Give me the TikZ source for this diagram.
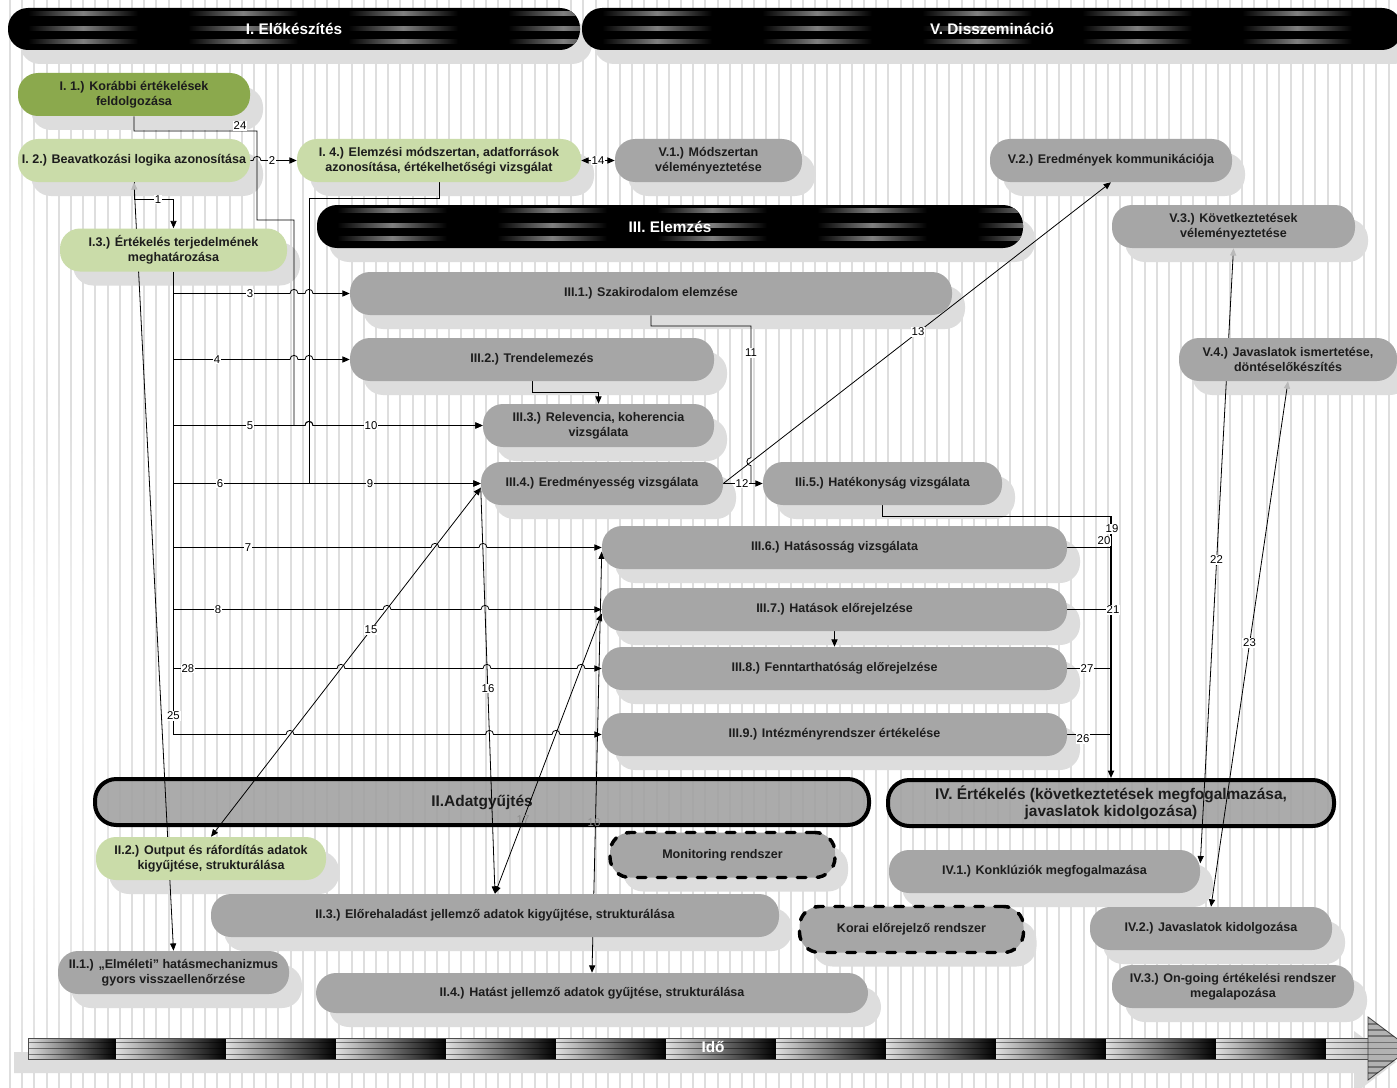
\documentclass[tikz,border=0pt]{standalone}
\usepackage{fontspec}
\setmainfont{Liberation Sans}
\usetikzlibrary{arrows.meta,fadings}
\definecolor{ndgray}{HTML}{A6A6A6}
\definecolor{shad}{HTML}{DDDDDD}
\definecolor{gdark}{HTML}{8BA94D}
\definecolor{glight}{HTML}{CADCA9}
\definecolor{stripec}{HTML}{DEDEDE}
\definecolor{txt}{HTML}{1C1C1C}
\definecolor{phfill}{HTML}{A2A2A2}
\tikzfading[name=softblob, inner color=transparent!0, outer color=transparent!100]
\pgfdeclarelayer{bgl}
\pgfdeclarelayer{shl}
\pgfdeclarelayer{cnl}
\pgfsetlayers{bgl,shl,cnl,main}
\tikzset{
  myt/.tip={Triangle[length=5.5pt,width=4.6pt]},
  gtip/.tip={Triangle[length=5.5pt,width=4.6pt,color=gray!55]},
  pbox/.style={rectangle,rounded corners=15pt,minimum height=32.25pt,inner sep=1pt,align=center,
     font=\fontsize{9.4}{11.2}\selectfont\bfseries,text=txt},
  dnode/.style={draw=black,line width=2.6pt,dash pattern=on 6.5pt off 8.5pt,line cap=round},
  phase/.style={rectangle,rounded corners=16pt,draw=black,line width=3pt,fill=phfill,fill opacity=.9,text opacity=1,
     align=center,font=\fontsize{11.6}{13}\selectfont\bfseries,text=txt,inner sep=0pt},
  hdr/.style={text=white,font=\fontsize{11.5}{13}\selectfont\bfseries,inner sep=0pt},
  conn/.style={draw=black,line width=0.6pt},
  arr/.style={-myt},
  lbl/.style={fill=white,inner sep=0.7pt,font=\fontsize{8.5}{9}\selectfont,text=black},
}
\newcommand\hopat[2]{-- ({#1-4},#2) .. controls ({#1-4},{#2-5.5}) and ({#1+4},{#2-5.5}) .. ({#1+4},#2)}
\newcommand\mynode[7][]{%
  \begin{pgfonlayer}{shl}
    \node[pbox,#1,draw=none,fill=shad,minimum width=#5*0.75pt] at (#3+13,#4+14) {};
  \end{pgfonlayer}
  \node[pbox,#1,fill=#6,minimum width=#5*0.75pt] (#2) at (#3,#4) {#7};}
\newcommand\myband[6]{%
  \begin{pgfonlayer}{shl}
    \fill[shad,rounded corners=15pt] ({#2+12},{#3+14}) rectangle ({#4+12},{#5+14});
  \end{pgfonlayer}
  \fill[black,rounded corners=15pt] (#2,#3) rectangle (#4,#5);
  \begin{scope}
    \clip[rounded corners=15pt] (#2,#3) rectangle (#4,#5);
    \foreach \k in {0,...,5} {
      \foreach \dy in {5.5,20.5,33.5} {
        \shade[left color=black,right color=black,middle color=black!50]
          ({#2+20+160*\k},{#3+\dy-2}) rectangle ({#2+130+160*\k},{#3+\dy+2});
      }
    }
  \end{scope}
  \node[hdr] (#1) at ({(#2+#4)/2},{(#3+#5)/2}) {#6};}
\begin{document}
\begin{tikzpicture}[x=0.75pt,y=-0.75pt]
\useasboundingbox (0,0) rectangle (1397,1088);
\begin{pgfonlayer}{bgl}
  \fill[white] (0,0) rectangle (1397,1088);
  \foreach \i in {0,...,115} \draw[stripec,line width=1.6pt] ({10+\i*12.2},0) -- ({10+\i*12.2},1088);
  \fill[white,path fading=softblob] (-110,380) rectangle (150,1080);
  \fill[white,path fading=softblob,opacity=.8] (-60,80) rectangle (60,520);
\end{pgfonlayer}

% header bands
\myband{hI}{8}{8}{580}{50}{I. Előkészítés}
\myband{hV}{582}{8}{1402}{50}{V. Disszemináció}
\myband{hIII}{317}{205}{1023}{248}{III. Elemzés}

% nodes
\mynode{i1}{134}{94.5}{232}{gdark}{I. 1.) Korábbi értékelések\\feldolgozása}
\mynode{i2}{134}{160.5}{232}{glight}{I. 2.) Beavatkozási logika azonosítása}
\mynode{i3}{173.5}{250}{227}{glight}{I.3.) Értékelés terjedelmének\\meghatározása}
\mynode{i4}{439}{160.5}{284}{glight}{I. 4.) Elemzési módszertan, adatforrások\\azonosítása, értékelhetőségi vizsgálat}
\mynode{v1}{708.5}{160.5}{187}{ndgray}{V.1.) Módszertan\\véleményeztetése}
\mynode{v2}{1111}{160.5}{242}{ndgray}{V.2.) Eredmények kommunikációja}
\mynode{v3}{1233.5}{226.5}{243}{ndgray}{V.3.) Következtetések\\véleményeztetése}
\mynode{v4}{1288}{359.5}{218}{ndgray}{V.4.) Javaslatok ismertetése,\\döntéselőkészítés}
\mynode{iiiA}{651}{293.5}{602}{ndgray}{III.1.) Szakirodalom elemzése}
\mynode{iiiB}{532}{359.5}{364}{ndgray}{III.2.) Trendelemezés}
\mynode{iiiC}{598.5}{425.5}{231}{ndgray}{III.3.) Relevencia, koherencia\\vizsgálata}
\mynode{iiiD}{602}{483.5}{242}{ndgray}{III.4.) Eredményesség vizsgálata}
\mynode{iiiE}{882.5}{483.5}{239}{ndgray}{IIi.5.) Hatékonyság vizsgálata}
\mynode{iiiF}{834.5}{547.5}{465}{ndgray}{III.6.) Hatásosság vizsgálata}
\mynode{iiiG}{834.5}{609.5}{465}{ndgray}{III.7.) Hatások előrejelzése}
\mynode{iiiH}{834.5}{668.5}{465}{ndgray}{III.8.) Fenntarthatóság előrejelzése}
\mynode{iiiI}{834.5}{734.5}{465}{ndgray}{III.9.) Intézményrendszer értékelése}
\mynode{ii2}{211}{858.5}{230}{glight}{II.2.) Output és ráfordítás adatok\\kigyűjtése, strukturálása}
\mynode{ii3}{495}{915.5}{568}{ndgray}{II.3.) Előrehaladást jellemző adatok kigyűjtése, strukturálása}
\mynode{ii1}{173.5}{972.5}{231}{ndgray}{II.1.) „Elméleti” hatásmechanizmus\\gyors visszaellenőrzése}
\mynode[minimum height=30pt]{ii4}{592}{993}{552}{ndgray}{II.4.) Hatást jellemző adatok gyűjtése, strukturálása}
\mynode[dnode,minimum height=33.75pt]{mon}{722.5}{855}{225}{ndgray}{Monitoring rendszer}
\mynode[dnode,minimum height=34.5pt]{korai}{911.5}{929.5}{224}{ndgray}{Korai előrejelző rendszer}
\mynode{iv1}{1044.5}{871.5}{311}{ndgray}{IV.1.) Konklúziók megfogalmazása}
\mynode{iv2}{1211}{928.5}{242}{ndgray}{IV.2.) Javaslatok kidolgozása}
\mynode{iv3}{1233}{986.5}{242}{ndgray}{IV.3.) On-going értékelési rendszer\\megalapozása}

% phase boxes
\begin{pgfonlayer}{shl}
\node[phase,minimum width=774*0.75pt,minimum height=46*0.75pt] (ph2) at (482,802) {II.Adatgyűjtés};
\node[phase,minimum width=446*0.75pt,minimum height=46*0.75pt] (ph4) at (1111,803) {IV. Értékelés (következtetések megfogalmazása,\\javaslatok kidolgozása)};
\fill[shad] (14,1052) -- (1354,1052) -- (1354,1031) -- (1396,1062) -- (1354,1094) -- (1354,1073) -- (14,1073) -- cycle;
\end{pgfonlayer}

% time bar
\foreach \a/\b in {28/116,116/226,226/336,336/446,446/556,556/666,666/776,776/886,886/996,996/1106,1106/1216,1216/1326}
  \shade[left color=gray!25,right color=black] (\a,1038) rectangle (\b,1059);
\shade[left color=gray!25,right color=gray!55] (1326,1038) rectangle (1369,1059);
\foreach \yy in {1042.5,1048.5,1054.5}
  \draw[black,opacity=.45,line width=1pt] (28,\yy) -- (1369,\yy);
\draw[black!70,line width=0.6pt] (28,1038) rectangle (1369,1059);
\filldraw[fill=gray!60,draw=black!75,line width=0.6pt] (1368,1017) -- (1410,1048.5) -- (1368,1080) -- cycle;
\begin{scope}
  \clip (1368,1017) -- (1410,1048.5) -- (1368,1080) -- cycle;
  \foreach \yy in {1024,1030,1036,1042.5,1048.5,1054.5,1061,1067,1073}
    \draw[black,opacity=.35,line width=0.8pt] (1368,\yy) -- (1410,\yy);
\end{scope}
\node[hdr] (ido) at (713,1047) {Idő};

% connectors
\begin{pgfonlayer}{cnl}
\draw[conn,arr] (i1.south) -- (134,131) -- (257,131) -- (257,220) -- (294,220) -- (294,425.5) \hopat{309}{425.5} -- (iiiC.west);
\draw[conn,arr] (i2.south) -- (134,199.5) -- (173.5,199.5) -- (i3.north);
\draw[conn,arr] (i2.east) \hopat{257}{160.5} -- (i4.west);
\draw[conn,myt-myt] (i4.east) -- (v1.west);
\draw[conn,arr] (i4.south) -- (439,198) -- (309,198) -- (309,483.5) -- (iiiD.west);
\draw[conn,arr] (i3.south) -- (i3.south |- iiiI.west) \hopat{290}{734.5} \hopat{489.5}{734.5} \hopat{556}{734.5} -- (iiiI.west);
\draw[conn,arr] (i3.south |- iiiA.west) \hopat{294}{293.5} \hopat{309}{293.5} -- (iiiA.west);
\draw[conn,arr] (i3.south |- iiiB.west) \hopat{294}{359.5} \hopat{309}{359.5} -- (iiiB.west);
\draw[conn,arr] (i3.south |- iiiC.west) -- (294,425.5) \hopat{309}{425.5} -- (iiiC.west);
\draw[conn,arr] (i3.south |- iiiD.west) -- (iiiD.west);
\draw[conn,arr] (i3.south |- iiiF.west) \hopat{435}{547.5} \hopat{483}{547.5} -- (iiiF.west);
\draw[conn,arr] (i3.south |- iiiG.west) \hopat{387}{609.5} \hopat{485}{609.5} -- (iiiG.west);
\draw[conn,arr] (i3.south |- iiiH.west) \hopat{341}{668.5} \hopat{487}{668.5} \hopat{581}{668.5} -- (iiiH.west);
\draw[conn,myt-myt] (ii2.north) -- (iiiD.182);
\draw[conn,arr] (iiiD.182) -- (ii3.north);
\draw[conn,myt-myt] (ii3.north) -- (iiiG.181);
\draw[conn,myt-myt] (iiiF.181) -- (ii4.north);
\draw[conn,arr] (iiiD.east) -- (v2.south);
\draw[conn] (iiiA.south) -- (651,326) -- (751,326) -- (751,457.7) .. controls (745.5,457.7) and (745.5,465.7) .. (751,465.7) -- (751,483.5);
\draw[conn,arr] (iiiD.east) -- (iiiE.west);
\draw[conn,arr] (iiiB.south) -- (532,392.5) -- (598.5,392.5) -- (iiiC.north);
\draw[conn,arr] (iiiG.south) -- (iiiH.north);
\coordinate (j19) at (1111,516);
\draw[conn] (iiiE.south) -- (iiiE.south |- j19) -- (j19);
\draw[conn,line width=1.1pt,arr] (j19) -- (ph4.north);
\draw[conn] (iiiF.east) -- (iiiF.east -| j19);
\draw[conn] (iiiG.east) -- (iiiG.east -| j19);
\draw[conn] (iiiH.east) -- (iiiH.east -| j19);
\draw[conn] (iiiI.east) -- (iiiI.east -| j19);
\draw[conn,gtip-myt] (v3.south) -- (iv1.3);
\draw[conn,gtip-myt] (v4.south) -- (iv2.north);
\draw[conn,gtip-myt] (i2.south) -- (ii1.north);
% labels
\node[lbl] (l24) at (240,126) {24};
\node[lbl] (l10) at (371,425.5) {10};
\node[lbl] (l1) at (158,199.5) {1};
\node[lbl] (l2) at (272,160.5) {2};
\node[lbl] (l14) at (598,160.5) {14};
\node[lbl] (l9) at (370,483.5) {9};
\node[lbl] (l3) at (250,293.5) {3};
\node[lbl] (l4) at (217,359.5) {4};
\node[lbl] (l5) at (250,425.5) {5};
\node[lbl] (l6) at (220,483.5) {6};
\node[lbl] (l7) at (248,547.5) {7};
\node[lbl] (l8) at (218,609.5) {8};
\node[lbl] (l28) at (188,668.5) {28};
\node[lbl] (l25) at (173.5,716) {25};
\node[lbl] (l15) at (371,630) {15};
\node[lbl] (l16) at (488,688.5) {16};
\node[lbl,fill=none,text=black!45] (l17) at (523,820) {17};
\node[lbl,fill=none,text=black!45] (l18) at (594,823) {18};
\node[lbl] (l13) at (918,332) {13};
\node[lbl] (l11) at (751,353) {11};
\node[lbl] (l12) at (742,483.5) {12};
\node[lbl] (l19) at (1112,529) {19};
\node[lbl] (l20) at (1104,541) {20};
\node[lbl] (l21) at (1113,610) {21};
\node[lbl] (l27) at (1087,668.5) {27};
\node[lbl] (l26) at (1083,739) {26};
\node[lbl] (l22) at (1216.5,560) {22};
\node[lbl] (l23) at (1249.5,643) {23};
\end{pgfonlayer}
\end{tikzpicture}
\end{document}
